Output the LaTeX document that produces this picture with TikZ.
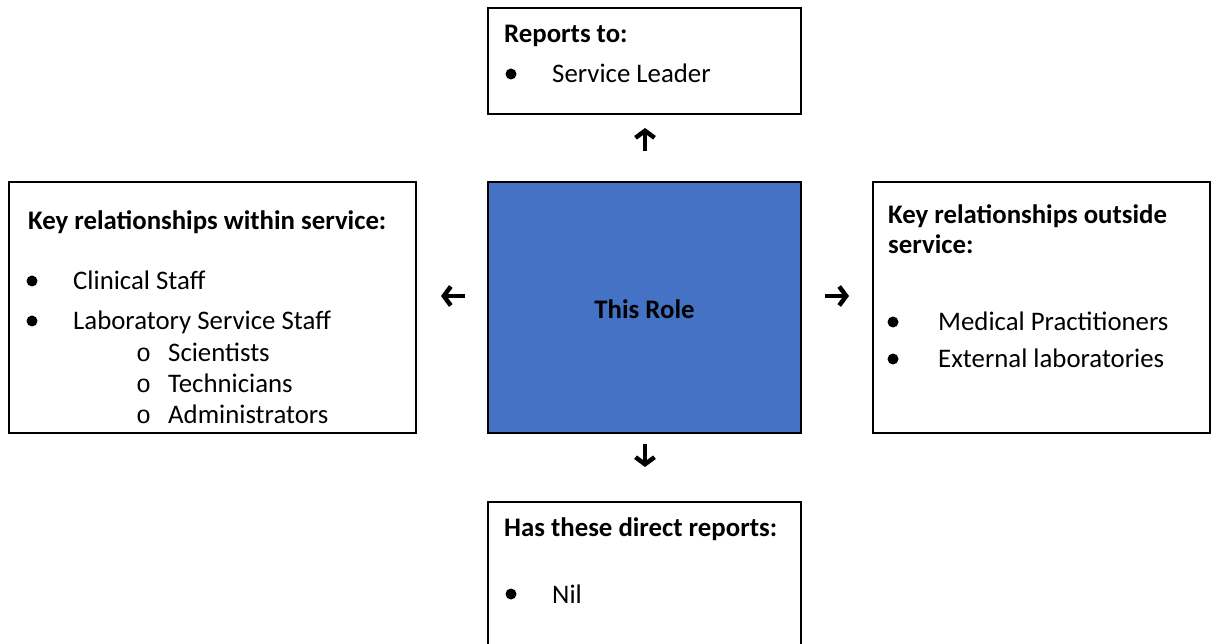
\documentclass[tikz,border=0pt]{standalone}
\usepackage{fontspec}
\setmainfont{Carlito}
\newfontfamily\monofont{Liberation Mono}
\usetikzlibrary{arrows.meta}
\definecolor{roleblue}{HTML}{4472C4}

\tikzset{
  infobox/.style={draw=black,line width=2pt,inner sep=0pt},
  heading/.style={anchor=base west,inner sep=0pt,font=\fontsize{26.8}{30}\selectfont\bfseries},
  item/.style={anchor=base west,inner sep=0pt,font=\fontsize{26.8}{30}\selectfont},
  dot/.style={circle,fill=black,inner sep=0pt,minimum size=11pt},
  subdot/.style={anchor=base west,inner sep=0pt,font=\fontsize{25}{28}\monofont},
  roleArrow/.style={line width=4.5pt,-{Straight Barb[length=7pt,width=19pt]}}
}

\begin{document}
\begin{tikzpicture}[x=1pt,y=-1pt]
                    \useasboundingbox (0,0) rectangle (1211,644);
                    % boxes
                    \draw[infobox] (488,8) rectangle (801,114);
                    \draw[infobox,fill=roleblue] (488,182) rectangle (801,433);
                    \draw[infobox] (9,182) rectangle (416,433);
                    \draw[infobox] (873,182) rectangle (1210,433);
                    \draw[infobox] (488,502) rectangle (801,660);
                    \node[font=\fontsize{26.8}{30}\selectfont\bfseries] (role) at (644.5,309) {This Role};
                    % top box
                    \node[heading] (repTitle) at (504,43) {Reports to:};
                    \node[dot] (repDot) at (511,74) {};
                    \node[item] (repLeader) at (552,83) {Service Leader};
                    % left box
                    \node[heading] (inTitle) at (28,230) {Key relationships within service:};
                    \node[dot] (inDotA) at (32,281) {};
                    \node[item] (inClinical) at (73,290) {Clinical Staff};
                    \node[dot] (inDotB) at (32,321) {};
                    \node[item] (inLab) at (73,330) {Laboratory Service Staff};
                    \node[subdot] (subA) at (136,362) {o};
                    \node[item] (inSci) at (168,362) {Scientists};
                    \node[subdot] (subB) at (136,393) {o};
                    \node[item] (inTech) at (168,393) {Technicians};
                    \node[subdot] (subC) at (136,424) {o};
                    \node[item] (inAdmin) at (168,424) {Administrators};
                    % right box
                    \node[heading] (outTitle) at (888,224) {Key relationships outside};
                    \node[heading] (outTitleB) at (888,254) {service:};
                    \node[dot] (outDotA) at (893,322) {};
                    \node[item] (outMedical) at (938,331) {Medical Practitioners};
                    \node[dot] (outDotB) at (893,359) {};
                    \node[item] (outExternal) at (938,368) {External laboratories};
                    % bottom box
                    \node[heading] (dirTitle) at (504,536) {Has these direct reports:};
                    \node[dot] (dirDot) at (511,594) {};
                    \node[item] (dirNil) at (552,603) {Nil};
                    % arrows
                    \coordinate (upFrom) at (645,151);
                    \coordinate (upTo) at (645,128);
                    \coordinate (leftFrom) at (465,296);
                    \coordinate (leftTo) at (441,296);
                    \coordinate (rightFrom) at (825,296);
                    \coordinate (rightTo) at (849,296);
                    \coordinate (downFrom) at (645,444);
                    \coordinate (downTo) at (645,467);
                    \draw[roleArrow] (upFrom) -- (upTo);
                    \draw[roleArrow] (leftFrom) -- (leftTo);
                    \draw[roleArrow] (rightFrom) -- (rightTo);
                    \draw[roleArrow] (downFrom) -- (downTo);
                \end{tikzpicture}
\end{document}
